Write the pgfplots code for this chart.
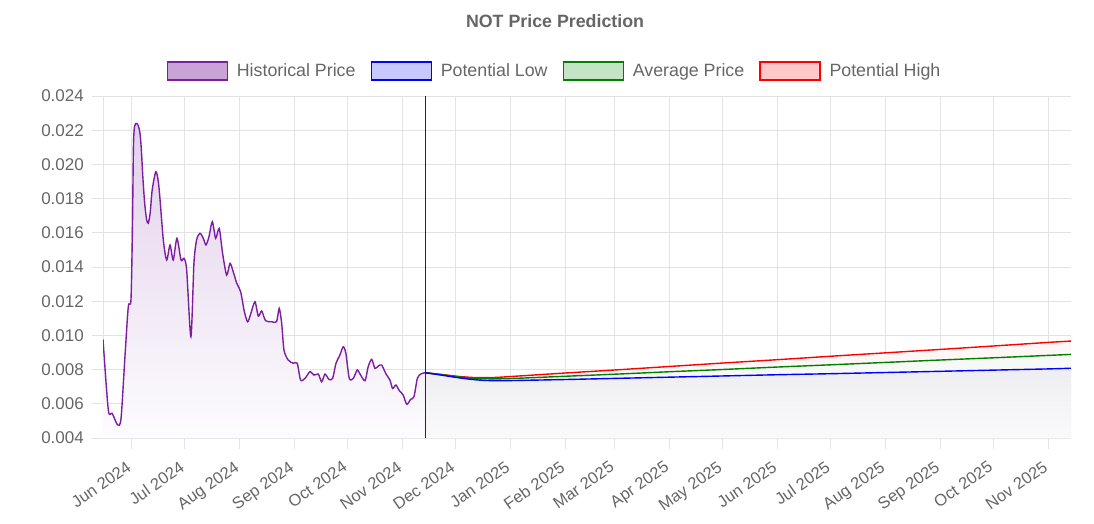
\documentclass[border=0pt]{standalone}
\usepackage{pgfplots}
\pgfplotsset{compat=1.18}
\usepackage{pgfplotstable}
\usepackage{fontspec}
\setmainfont{Liberation Sans}
\definecolor{txt}{HTML}{666666}
\definecolor{gridc}{HTML}{E3E3E3}
\definecolor{histline}{RGB}{125,30,160}
\definecolor{histfill}{RGB}{201,162,214}
\definecolor{lowfill}{RGB}{200,200,255}
\definecolor{avgfill}{RGB}{197,227,197}
\definecolor{highfill}{RGB}{255,200,200}
\definecolor{avggreen}{RGB}{0,128,0}

\pgfplotstableread{
x y
-16.2 0.00977
-13.2 0.00564
-11.0 0.00544
-7.9 0.00476
-6.0 0.00515
-3.8 0.00875
-1.9 0.01168
-0.4 0.01207
0.4 0.0160
1.0 0.0210
1.6 0.0222
2.6 0.0224
3.6 0.0223
4.6 0.0219
5.4 0.0210
6.3 0.0193
7.3 0.0178
8.4 0.0168
9.4 0.01656
10.5 0.0172
11.6 0.0185
13.7 0.01957
15.4 0.0187
17.9 0.01558
19.8 0.01441
21.7 0.01529
23.5 0.01441
25.6 0.01568
27.9 0.01441
29.6 0.01451
31.1 0.01382
33.5 0.00992
35.2 0.01421
36.7 0.01558
38.6 0.01597
40.5 0.01568
42.0 0.01529
43.7 0.01577
45.6 0.01665
47.5 0.01568
49.5 0.01626
51.4 0.0148
53.7 0.01353
55.6 0.01421
57.4 0.01373
59.4 0.01305
61.6 0.01256
63.7 0.01139
65.6 0.0108
67.4 0.01129
69.7 0.01197
71.6 0.01113
73.5 0.01143
75.7 0.01086
79.1 0.0108
81.9 0.0108
83.4 0.01158
84.8 0.01071
86.1 0.00915
88.5 0.00856
91.4 0.00837
93.6 0.00837
95.5 0.00739
98.0 0.00749
100.8 0.00788
103.1 0.00768
105.5 0.00774
107.4 0.00729
109.3 0.00774
111.5 0.00743
113.6 0.00749
115.5 0.00837
117.7 0.00885
119.6 0.00934
121.1 0.00895
123.0 0.00749
125.3 0.00749
127.5 0.00798
129.1 0.00774
131.9 0.00735
133.7 0.00817
135.7 0.0086
137.5 0.00807
139.4 0.00821
141.3 0.00827
143.8 0.00774
146.0 0.00739
147.5 0.0069
149.4 0.0071
151.3 0.00677
153.5 0.00651
155.5 0.00597
157.7 0.00626
159.6 0.00642
161.5 0.00749
163.4 0.00774
165.8 0.00782
}\hist

\pgfplotstableread{
x y
165.8 0.00782
175 0.00768
185 0.00752
195 0.00740
205 0.00735
215 0.00736
245 0.00742
275 0.00749
305 0.00756
335 0.00763
365 0.00770
395 0.00776
426 0.00783
457 0.00790
487 0.00797
518 0.00804
531 0.00808
}\low

\pgfplotstableread{
x y
165.8 0.00782
175 0.00770
185 0.00757
195 0.00748
205 0.00746
215 0.00748
245 0.00761
275 0.00774
305 0.00788
335 0.00801
365 0.00815
395 0.00828
426 0.00842
457 0.00856
487 0.00869
518 0.00883
531 0.00889
}\avg

\pgfplotstableread{
x y
165.8 0.00782
175 0.00772
185 0.00760
195 0.00753
205 0.00754
215 0.00760
245 0.00780
275 0.00799
305 0.00819
335 0.00839
365 0.00858
395 0.00878
426 0.00898
457 0.00918
487 0.00938
518 0.00959
531 0.00967
}\high

\begin{document}
\begin{tikzpicture}
\useasboundingbox (0,0) rectangle (1094pt,523pt);
\begin{axis}[
  at={(103pt,85pt)}, anchor=south west,
  scale only axis, width=968pt, height=342pt,
  xmin=-16.2, xmax=531, ymin=0.004, ymax=0.024,
  axis x line*=bottom, axis y line*=left,
  axis line style={gridc, line width=1pt},
  grid=major, major grid style={gridc, line width=1pt},
  tick style={gridc, line width=1pt},
  tick align=outside, major tick length=11pt,
  ytick={0.004,0.006,0.008,0.010,0.012,0.014,0.016,0.018,0.020,0.022,0.024},
  scaled y ticks=false,
  y tick label style={/pgf/number format/fixed, /pgf/number format/fixed zerofill, /pgf/number format/precision=3},
  /pgf/number format/assume math mode=true,
  xtick={0,30,61,92,122,153,183,214,245,273,304,334,365,395,426,457,487,518},
  xticklabels={Jun 2024,Jul 2024,Aug 2024,Sep 2024,Oct 2024,Nov 2024,Dec 2024,Jan 2025,Feb 2025,Mar 2025,Apr 2025,May 2025,Jun 2025,Jul 2025,Aug 2025,Sep 2025,Oct 2025,Nov 2025},
  y tick label style={font=\fontsize{17}{17}\selectfont, text=txt, anchor=east, inner sep=0pt, xshift=-8pt},
  x tick label style={font=\fontsize{16.5}{17}\selectfont, text=txt, inner sep=0pt, xshift=-6pt, yshift=-11pt, rotate=35, anchor=north east},
  title={NOT Price Prediction},
  title style={at={(0.467,1.20)}, anchor=center, font=\bfseries\fontsize{17.8}{18}\selectfont, text=txt},
  legend columns=4,
  legend style={at={(0.4654,1.073)}, anchor=center, draw=none, fill=none,
    font=\fontsize{17.8}{18}\selectfont, text=txt, inner sep=0pt,
    nodes={inner sep=0pt},
    /tikz/every odd column/.append style={column sep=9pt},
    /tikz/every even column/.append style={column sep=15pt}},
  legend image code/.code={\draw[#1, line width=1.2pt] (0pt,-9pt) rectangle (60pt,9pt);},
]
\addlegendimage{draw=histline, fill=histfill}
\addlegendentry{Historical Price}
\addlegendimage{draw=blue, fill=lowfill}
\addlegendentry{Potential Low}
\addlegendimage{draw=avggreen, fill=avgfill}
\addlegendentry{Average Price}
\addlegendimage{draw=red, fill=highfill}
\addlegendentry{Potential High}

% fills
\addplot[draw=none, smooth, tension=0.45, top color={rgb,255:red,226;green,208;blue,235}, bottom color={rgb,255:red,253;green,252;blue,254}, forget plot] table[x=x,y=y] {\hist} \closedcycle;
\addplot[draw=none, smooth, fill={rgb,255:red,255;green,246;blue,246}, forget plot] table[x=x,y=y] {\high} \closedcycle;
\addplot[draw=none, smooth, fill={rgb,255:red,246;green,249;blue,246}, forget plot] table[x=x,y=y] {\avg} \closedcycle;
\addplot[draw=none, smooth, top color={rgb,255:red,238;green,237;blue,241}, bottom color={rgb,255:red,250;green,250;blue,251}, forget plot] table[x=x,y=y] {\low} \closedcycle;

% lines
\addplot[histline, line width=1.4pt, smooth, tension=0.45, forget plot] table[x=x,y=y] {\hist};
\addplot[red, line width=1.4pt, smooth, forget plot] table[x=x,y=y] {\high};
\addplot[avggreen, line width=1.4pt, smooth, forget plot] table[x=x,y=y] {\avg};
\addplot[blue, line width=1.4pt, smooth, forget plot] table[x=x,y=y] {\low};

% vertical marker at today
\addplot[black!85, line width=0.8pt, forget plot] coordinates {(165.8,0.004) (165.8,0.024)};
\end{axis}
\end{tikzpicture}
\end{document}
